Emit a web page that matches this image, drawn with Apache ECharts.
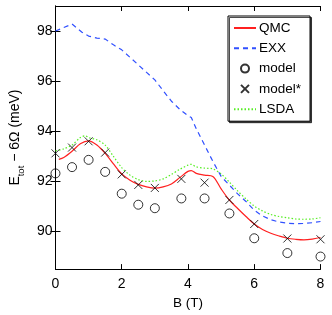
<!DOCTYPE html>
<html><head><meta charset="utf-8">
<script src="https://cdn.jsdelivr.net/npm/echarts@6/dist/echarts.min.js"></script>
<style>html,body{margin:0;padding:0;background:#fff}#c{width:332px;height:315px}</style>
</head><body><div id="c"></div>
<script>
// QMC curve
const qmcB = [0.1,0.25,0.5,0.75,1.0,1.25,1.5,1.75,2.0,2.25,2.5,2.75,3.0,3.25,3.5,3.75,4.0,4.1,4.25,4.5,4.75,5.0,5.25,5.5,5.75,6.0,6.25,6.5,6.75,7.0,7.25,7.5,7.75,8.0];
const qmcE = [92.88,92.95,93.2,93.5,93.62,93.45,93.12,92.7,92.3,92.05,91.88,91.78,91.73,91.78,91.9,92.15,92.4,92.43,92.32,92.25,92.2,91.7,91.25,90.92,90.6,90.3,90.08,89.93,89.82,89.73,89.69,89.67,89.7,89.76];
// EXX curve
const exxB = [0,0.5,0.8,1.0,1.25,1.5,1.75,2.0,2.25,2.5,2.75,3.0,3.25,3.5,3.75,4.0,4.1,4.25,4.5,4.75,5.0,5.25,5.5,5.75,6.0,6.25,6.5,6.75,7.0,7.25,7.5,7.75,8.0];
const exxE = [98.0,98.28,97.95,97.8,97.72,97.68,97.45,97.25,96.95,96.65,96.35,96.05,95.62,95.2,94.88,94.62,94.55,94.1,93.45,92.8,92.2,91.85,91.5,91.2,90.85,90.62,90.47,90.38,90.33,90.31,90.32,90.35,90.4];
// LSDA curve
const lsdaB = [0,0.25,0.5,0.75,0.9,1.0,1.25,1.5,1.75,2.0,2.25,2.5,2.75,3.0,3.25,3.5,3.75,4.0,4.1,4.25,4.5,4.75,5.0,5.25,5.5,5.75,6.0,6.25,6.5,6.75,7.0,7.25,7.5,7.75,8.0];
const lsdaE = [93.22,93.3,93.45,93.75,93.82,93.75,93.66,93.45,93.0,92.55,92.25,92.07,92.0,92.02,92.1,92.28,92.48,92.65,92.68,92.58,92.53,92.5,92.3,91.97,91.62,91.3,91.02,90.82,90.68,90.6,90.55,90.5,90.49,90.5,90.55];
// model points
const modelB = [0,0.5,1,1.5,2,2.5,3,3.8,4.5,5.25,6,7,8];
const modelE = [92.32,92.57,92.86,92.38,91.51,91.07,90.93,91.32,91.32,90.72,89.73,89.14,89.0];
const modelStarE = [93.12,93.35,93.6,93.15,92.28,91.86,91.74,92.1,91.95,91.26,90.3,89.72,89.69];
// ticks
const xTicks = [0,2,4,6,8];
const yTicks = [90,92,94,96,98];

const zip = (a,b) => a.map((v,i)=>[v,b[i]]);
const chart = echarts.init(document.getElementById('c'));
const font = 'Liberation Sans, Arial, sans-serif';
const axisCommon = {
  axisLine:{show:true,lineStyle:{color:'#000',width:1}},
  axisTick:{show:true,inside:true,length:5,lineStyle:{color:'#000'}},
  splitLine:{show:false}
};
chart.setOption({
  animation:false,
  backgroundColor:'#fff',
  grid:{left:46.7,right:11.5,top:6,bottom:36},
  textStyle:{fontFamily:font},
  xAxis:[
    Object.assign({type:'value',min:0,max:8,interval:2,position:'bottom',
      name:'B (T)',nameLocation:'middle',nameGap:21,
      nameTextStyle:{fontSize:13.5,color:'#000',fontFamily:font},
      axisLabel:{fontSize:14,color:'#000',margin:8,fontFamily:font,customValues:xTicks}},axisCommon),
    Object.assign({type:'value',min:0,max:8,interval:2,position:'top',
      axisLabel:{show:false}},axisCommon)
  ],
  yAxis:[
    Object.assign({type:'value',min:88.5,max:99,position:'left',
      name:'{a|E}{s|tot}{a| − 6Ω (meV)}',nameLocation:'middle',nameGap:26,
      nameTextStyle:{color:'#000',fontFamily:font,
        rich:{a:{fontSize:14,fontFamily:font,color:'#000',lineHeight:18,verticalAlign:'bottom'},
              s:{fontSize:9.5,fontFamily:font,color:'#000',lineHeight:18,verticalAlign:'bottom',padding:[0,0,-4,0]}}},
      axisLabel:{fontSize:14,color:'#000',margin:3,fontFamily:font,customValues:yTicks},
    },axisCommon,{axisTick:{show:true,inside:true,length:5,lineStyle:{color:'#000'},customValues:yTicks}}),
    Object.assign({type:'value',min:88.5,max:99,position:'right',
      axisLabel:{show:false,customValues:yTicks}},
      axisCommon,{axisTick:{show:true,inside:true,length:5,lineStyle:{color:'#000'},customValues:yTicks}})
  ],
  legend:{
    orient:'vertical',left:228,top:16,
    padding:[5,9,5,5],itemGap:6.3,itemWidth:22,itemHeight:8,
    backgroundColor:'#fff',borderColor:'#000',borderWidth:1,
    shadowColor:'rgba(0,0,0,0.7)',shadowOffsetX:1.5,shadowOffsetY:1.5,shadowBlur:0,
    textStyle:{fontSize:13.5,color:'#000',fontFamily:font,padding:[0,0,0,-2]},
    data:[
      {name:'QMC',itemStyle:{opacity:0}},
      {name:'EXX',itemStyle:{opacity:0}},
      {name:'model'},
      {name:'model*'},
      {name:'LSDA',itemStyle:{opacity:0}}
    ]
  },
  series:[
    {name:'QMC',type:'line',data:zip(qmcB,qmcE),showSymbol:false,symbol:'none',smooth:0.3,
      lineStyle:{color:'#ff2020',width:1.2},itemStyle:{color:'#ff2020'},z:4},
    {name:'EXX',type:'line',data:zip(exxB,exxE),showSymbol:false,symbol:'none',
      lineStyle:{color:'#3050ff',width:1.2,type:[5,4]},itemStyle:{color:'#3050ff'},z:3},
    {name:'model',type:'scatter',data:zip(modelB,modelE),symbol:'circle',symbolSize:9,
      itemStyle:{color:'rgba(0,0,0,0)',borderColor:'#000',borderWidth:1},z:5},
    {name:'model*',type:'scatter',data:zip(modelB,modelStarE),symbol:'path://M0,0L10,10M10,0L0,10',symbolSize:8,
      itemStyle:{color:'rgba(0,0,0,0)',borderColor:'#000',borderWidth:1},z:5},
    {name:'LSDA',type:'line',data:zip(lsdaB,lsdaE),showSymbol:false,symbol:'none',smooth:0.3,
      lineStyle:{color:'#55ee22',width:1.2,type:[1.5,2]},itemStyle:{color:'#55ee22'},z:2}
  ]
});
</script></body></html>
